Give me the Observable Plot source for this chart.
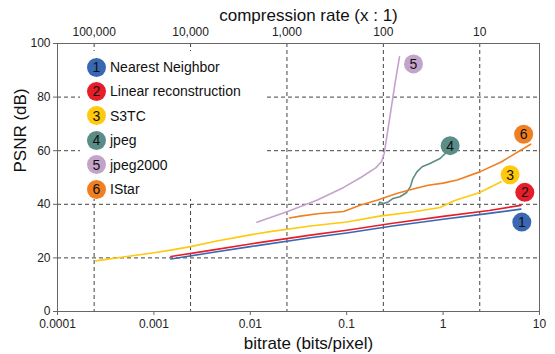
<!DOCTYPE html>
<html><head><meta charset="utf-8">
<script src="https://cdn.jsdelivr.net/npm/d3@7"></script>
<script src="https://cdn.jsdelivr.net/npm/@observablehq/plot@0.6"></script>
<style>
body{margin:0;background:#fff;font-family:"Liberation Sans",Arial,sans-serif;}
#wrap{position:relative;width:555px;height:354px;}
#legend{position:absolute;left:80px;top:51px;width:185px;height:148px;background:#fff;}
.row{position:absolute;left:0;height:20px;display:flex;align-items:center;font-size:14px;color:#111;white-space:nowrap;}
.dot{width:19px;height:19px;border-radius:50%;display:flex;align-items:center;justify-content:center;font-size:14px;color:#111;margin-left:7px;margin-right:4px;}
</style></head><body>
<div id="wrap"></div>
<script>
// ---- data ----
const seriesNames = ["Nearest Neighbor", "Linear reconstruction", "S3TC", "jpeg", "jpeg2000", "IStar"];
const seriesNumbers = ["1", "2", "3", "4", "5", "6"];
const seriesColors = ["#3a67b1", "#e61e2a", "#ffc90e", "#5b8c88", "#c4a3cb", "#f07f21"];
const bitsPerPixelRaw = 24;
const compressionTicks = [100000, 10000, 1000, 100, 10];
const bitrateTicks = [0.0001, 0.001, 0.01, 0.1, 1, 10];
const psnrTicks = [0, 20, 40, 60, 80, 100];
const psnrGrid = [20, 40, 60, 80];

// [bitrate (bits/pixel), PSNR (dB)]
const nearestNeighbor = [[0.0015,19.6],[0.004,22.0],[0.01,24.2],[0.042,27.5],[0.1,29.3],[0.3,31.9],[1,34.4],[3,36.6],[6.4,38.2]];
const linearReconstruction = [[0.0015,20.5],[0.004,22.9],[0.01,25.2],[0.042,28.5],[0.1,30.3],[0.3,32.9],[1,35.5],[3,37.7],[6.4,39.6]];
const s3tc = [[0.00025,18.9],[0.0005,20.4],[0.001,21.9],[0.0015,22.9],[0.0024,24.2],[0.0045,26.3],[0.01,28.6],[0.016,29.8],[0.042,31.9],[0.1,33.4],[0.22,35.6],[0.5,37.2],[0.93,38.8],[1.3,41.3],[2.4,44.4],[4,48.4]];
const jpeg = [[0.214,39.7],[0.22,40.8],[0.241,40.3],[0.27,40.9],[0.303,42.2],[0.356,42.8],[0.416,44.3],[0.457,46.5],[0.486,49.6],[0.535,52.1],[0.606,54.0],[0.73,55.2],[0.93,57.1],[1.05,58.9]];
const jpeg2000 = [[0.0117,33.3],[0.024,37.2],[0.049,41.5],[0.093,46.3],[0.14,50.0],[0.2,53.6],[0.23,56.0],[0.245,59],[0.26,65],[0.29,76],[0.32,86],[0.353,95]];
const iStar = [[0.0255,34.9],[0.033,35.6],[0.05,36.5],[0.093,37.3],[0.14,39.7],[0.21,41.6],[0.33,44.0],[0.5,45.8],[0.7,47.1],[1,47.9],[1.4,49.1],[2.4,52.1],[4,55.8],[8.1,62.4]];
const seriesData = [nearestNeighbor, linearReconstruction, s3tc, jpeg, jpeg2000, iStar];

// ---- styling (label offsets from end of each line, px) ----
const labelOffsets = [[1,13],[4,-13],[9,-7],[5,-8],[14,7],[-7,-10]];

const rows = seriesData.flatMap((pts, i) => pts.map(([b, p]) => ({series: seriesNames[i], b, p})));
const ends = seriesData.map((pts, i) => ({series: seriesNames[i], num: seriesNumbers[i], b: pts[pts.length-1][0], p: pts[pts.length-1][1]}));
const compressionBitrates = compressionTicks.map(c => ({c, b: bitsPerPixelRaw / c}));
const fmtComma = d3.format(",");

const endMarks = ends.flatMap((e, i) => [
  Plot.dot([e], {x: "b", y: "p", r: 9.5, fill: seriesColors[i], dx: labelOffsets[i][0], dy: labelOffsets[i][1]}),
  Plot.text([e], {x: "b", y: "p", text: "num", fontSize: 14, fill: "#111", dx: labelOffsets[i][0], dy: labelOffsets[i][1] + 0.5})
]);

const chart = Plot.plot({
  width: 555, height: 354,
  marginLeft: 57, marginRight: 16, marginTop: 43, marginBottom: 43,
  x: {type: "log", domain: [1e-4, 10]},
  y: {domain: [0, 100]},
  color: {domain: seriesNames, range: seriesColors},
  style: {fontFamily: "Liberation Sans, Arial, sans-serif", fontSize: "12px", color: "#222", background: "#fff"},
  marks: [
    Plot.ruleY(psnrGrid, {stroke: "#444", strokeDasharray: "4,3", strokeWidth: 1}),
    Plot.ruleX(compressionBitrates, {x: "b", stroke: "#444", strokeDasharray: "4,3", strokeWidth: 1}),
    Plot.frame({stroke: "#666", strokeWidth: 1}),
    Plot.axisX(bitrateTicks, {anchor: "bottom", tickSize: 4, tickPadding: 4, tickFormat: d => String(d), label: null, stroke: "#666"}),
    Plot.text(compressionBitrates, {x: "b", frameAnchor: "top", lineAnchor: "middle", dy: -11, text: d => fmtComma(d.c), fontSize: 12, fill: "#222"}),
    Plot.axisY(psnrTicks, {anchor: "left", tickSize: 4, tickPadding: 3, label: null, stroke: "#666"}),
    Plot.line(rows, {x: "b", y: "p", z: "series", stroke: "series", strokeWidth: 1.6}),
    ...endMarks,
    Plot.text(["compression rate (x : 1)"], {frameAnchor: "top", lineAnchor: "middle", dy: -28, dx: 10, fontSize: 17, fill: "#111"}),
    Plot.text(["bitrate (bits/pixel)"], {frameAnchor: "bottom", lineAnchor: "middle", dy: 32, dx: 10, fontSize: 17, fill: "#111"}),
    Plot.text(["PSNR (dB)"], {frameAnchor: "left", lineAnchor: "middle", dx: -37, dy: -5, rotate: -90, fontSize: 17, fill: "#111"})
  ]
});

const wrap = document.getElementById("wrap");
wrap.appendChild(chart);
const legend = document.createElement("div");
legend.id = "legend";
seriesNames.forEach((name, i) => {
  const row = document.createElement("div");
  row.className = "row";
  row.style.top = (6 + 24.4 * i) + "px";
  const dot = document.createElement("div");
  dot.className = "dot";
  dot.style.background = seriesColors[i];
  dot.textContent = seriesNumbers[i];
  const label = document.createElement("span");
  label.textContent = name;
  row.appendChild(dot);
  row.appendChild(label);
  legend.appendChild(row);
});
wrap.appendChild(legend);
</script>
</body></html>
